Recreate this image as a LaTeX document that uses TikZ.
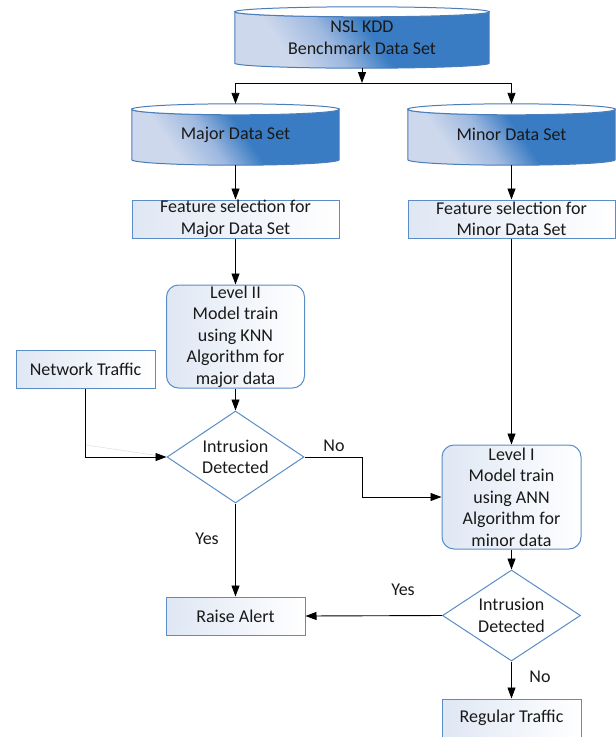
\documentclass[tikz,border=0pt]{standalone}
\usepackage{fontspec}
\setmainfont{Carlito}
\usetikzlibrary{arrows.meta,shapes.geometric,calc,backgrounds}

\definecolor{edge}{HTML}{5A8DC6}
\definecolor{drumedge}{HTML}{4A7DB9}
\definecolor{drumlight}{HTML}{CDD8EC}
\definecolor{drummid}{HTML}{9DB8DF}
\definecolor{drumblue}{HTML}{3A7CC3}
\definecolor{boxtint}{HTML}{DFE7F4}
\definecolor{ghost}{HTML}{DCE4EF}

\pgfdeclarehorizontalshading{drumshade}{100bp}{%
  color(0bp)=(drumlight); color(30bp)=(drumlight); color(42bp)=(drummid);
  color(53bp)=(drumblue); color(100bp)=(drumblue)}

% database drum drawn behind a named node: #1 node, #2 cap half-height
\newcommand\drum[2]{%
  \path[shade, shading=drumshade, shading angle=35, draw=drumedge, line width=1pt]
    let \p1=(#1.north west), \p2=(#1.south east) in
    (\x1,\y1-#2pt) -- (\x1,\y2+#2pt)
    arc[start angle=180, end angle=360, x radius={(\x2-\x1)/2}, y radius=#2pt]
    -- (\x2,\y1-#2pt)
    arc[start angle=0, end angle=-180, x radius={(\x2-\x1)/2}, y radius=#2pt] -- cycle;
  \path[fill=white, draw=drumedge, line width=1pt]
    let \p1=(#1.north west), \p2=(#1.south east) in
    ({(\x1+\x2)/2},\y1-#2pt) ellipse[x radius={(\x2-\x1)/2}, y radius=#2pt];
}

\begin{document}
\begin{tikzpicture}[x=1pt, y=-1pt,
  font=\fontsize{18}{21.5}\selectfont,
  drumtext/.style={inner sep=0pt, align=center, text=black!90},
  plainbox/.style={draw=edge, line width=1pt, left color=boxtint, right color=white,
    inner sep=0pt, align=center, text=black!90, minimum height=38pt},
  roundbox/.style={plainbox, rounded corners=12pt},
  decision/.style={diamond, aspect=1.5, draw=edge, line width=1pt, fill=white,
    inner sep=0pt, align=center, text=black!90, minimum width=137pt, minimum height=92pt},
  flow/.style={draw=black, line width=0.9pt, -{Triangle[length=11pt,width=8pt]}},
  plain/.style={draw=black, line width=0.9pt},
  tag/.style={inner sep=0pt, text=black!90}]

\useasboundingbox (0,0) rectangle (616,737);

% data sets
\node[drumtext, minimum width=254pt, minimum height=61pt] (nsl) at (362,37.5)
  {NSL KDD\\Benchmark Data Set};
\node[drumtext, minimum width=207pt, minimum height=61pt] (major) at (235.5,134.5)
  {Major Data Set};
\node[drumtext, minimum width=207pt, minimum height=61pt] (minor) at (511.5,134.5)
  {Minor Data Set};
\begin{scope}[on background layer]
  \drum{nsl}{5}
  \drum{major}{5.5}
  \drum{minor}{5.5}
\end{scope}

% processing steps
\node[plainbox, minimum width=207pt] (fmaj) at (235.5,219)
  {Feature selection for\\Major Data Set};
\node[plainbox, minimum width=207pt] (fmin) at (511.5,219)
  {Feature selection for\\Minor Data Set};
\node[roundbox, minimum width=138pt, minimum height=103pt] (lvl2) at (235.5,336.5)
  {Level II\\Model train\\using KNN\\Algorithm for\\major data};
\node[plainbox, minimum width=139pt] (net) at (85.5,369) {Network Traffic};
\node[decision] (dec1) at (235.5,457) {Intrusion\\Detected};
\node[roundbox, minimum width=139pt, minimum height=104pt] (lvl1) at (511.5,497)
  {Level I\\Model train\\using ANN\\Algorithm for\\minor data};
\node[plainbox, minimum width=139pt] (alert) at (235.5,616) {Raise Alert};
\node[decision, minimum width=138pt, minimum height=91pt] (dec2) at (511.5,615.5)
  {Intrusion\\Detected};
\node[plainbox, minimum width=139pt] (reg) at (511.5,718) {Regular Traffic};

% branch points
\coordinate (split) at (362,83);
\coordinate (jog) at (362,457);
\coordinate (ghostA) at (86,445);
\coordinate (ghostB) at (160,456);

% connectors
\draw[flow] (nsl.south) -- (split);
\draw[flow] (split) -| (major.north);
\draw[flow] (split) -| (minor.north);
\draw[flow] (major.south) -- (fmaj.north);
\draw[flow] (minor.south) -- (fmin.north);
\draw[flow] (fmaj.south) -- (lvl2.north);
\draw[flow] (fmin.south) -- (lvl1.north);
\draw[flow] (lvl2.south) -- (dec1.north);
\draw[ghost, line width=0.6pt] (ghostA) -- (ghostB);
\draw[flow] (net.south) |- (dec1.west);
\draw[plain] (dec1.east) -- (jog);
\draw[flow] (jog) |- (lvl1.west);
\draw[flow] (dec1.south) -- (alert.north);
\draw[flow] (lvl1.south) -- (dec2.north);
\draw[flow] (dec2.west) -- (alert.east);
\draw[flow] (dec2.south) -- (reg.north);

% branch labels
\node[tag] at (334,446) {No};
\node[tag] at (207,539) {Yes};
\node[tag] at (403,590) {Yes};
\node[tag] at (540,677) {No};
\end{tikzpicture}
\end{document}
